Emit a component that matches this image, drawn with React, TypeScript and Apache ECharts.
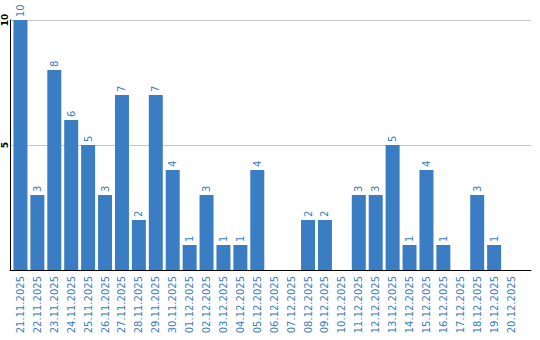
import React, { useEffect, useRef } from "react";
import * as echarts from "echarts";

const categories = [
  "21.11.2025", "22.11.2025", "23.11.2025", "24.11.2025", "25.11.2025",
  "26.11.2025", "27.11.2025", "28.11.2025", "29.11.2025", "30.11.2025",
  "01.12.2025", "02.12.2025", "03.12.2025", "04.12.2025", "05.12.2025",
  "06.12.2025", "07.12.2025", "08.12.2025", "09.12.2025", "10.12.2025",
  "11.12.2025", "12.12.2025", "13.12.2025", "14.12.2025", "15.12.2025",
  "16.12.2025", "17.12.2025", "18.12.2025", "19.12.2025", "20.12.2025",
];
const values = [10, 3, 8, 6, 5, 3, 7, 2, 7, 4, 1, 3, 1, 1, 4, 0, 0, 2, 2, 0, 3, 3, 5, 1, 4, 1, 0, 3, 1, 0];
const yTicks = [0, 5, 10];

const BLUE = "#3a7dc3";
const FONT = "DejaVu Sans";

export default function App() {
  const ref = useRef<HTMLDivElement>(null);
  useEffect(() => {
    document.body.style.margin = "0";
    const chart = echarts.init(ref.current!, null, { renderer: "svg" });
    chart.setOption({
      animation: false,
      grid: [
        { left: 9.5, top: 20, width: 510, height: 250, containLabel: false },
        { left: 10, top: 20, width: 521, height: 250, containLabel: false },
      ],
      xAxis: [
        {
          type: "category",
          gridIndex: 0,
          data: categories,
          axisLine: { show: false },
          axisTick: { show: false },
          axisLabel: {
            rotate: 90,
            interval: 0,
            margin: 6,
            color: BLUE,
            fontFamily: FONT,
            fontSize: 10,
          },
        },
        {
          type: "value",
          gridIndex: 1,
          min: 0,
          max: 1,
          axisLine: { show: true, onZero: false, lineStyle: { color: "#000", width: 1 } },
          axisTick: { show: false },
          axisLabel: { show: false },
          splitLine: { show: false },
        },
      ],
      yAxis: [
        {
          type: "value",
          gridIndex: 0,
          min: yTicks[0],
          max: yTicks[yTicks.length - 1],
          interval: 5,
          axisLine: { show: false },
          axisTick: { show: false },
          splitLine: { show: false },
          axisLabel: {
            rotate: 90,
            margin: 3,
            color: "#000",
            fontFamily: FONT,
            fontSize: 9,
            fontWeight: "bold",
            formatter: (v: number) => (v === 0 ? "" : String(v)),
          },
        },
        {
          type: "value",
          gridIndex: 1,
          min: yTicks[0],
          max: yTicks[yTicks.length - 1],
          interval: 5,
          axisLine: { show: true, lineStyle: { color: "#000", width: 1 } },
          axisTick: { show: false },
          axisLabel: { show: false },
          splitLine: { lineStyle: { color: "#c8c8c8", width: 1 } },
        },
      ],
      series: [
        {
          type: "bar",
          xAxisIndex: 0,
          yAxisIndex: 0,
          data: values,
          barWidth: 14,
          z: 3,
          itemStyle: { color: BLUE },
          label: {
            show: true,
            position: "top",
            rotate: 90,
            align: "left",
            verticalAlign: "middle",
            distance: 3,
            color: BLUE,
            fontFamily: FONT,
            fontSize: 10,
            formatter: (p: any) => (p.value === 0 ? "" : String(p.value)),
          },
        },
      ],
    });
    return () => chart.dispose();
  }, []);
  return <div ref={ref} style={{ width: 540, height: 340 }} />;
}
